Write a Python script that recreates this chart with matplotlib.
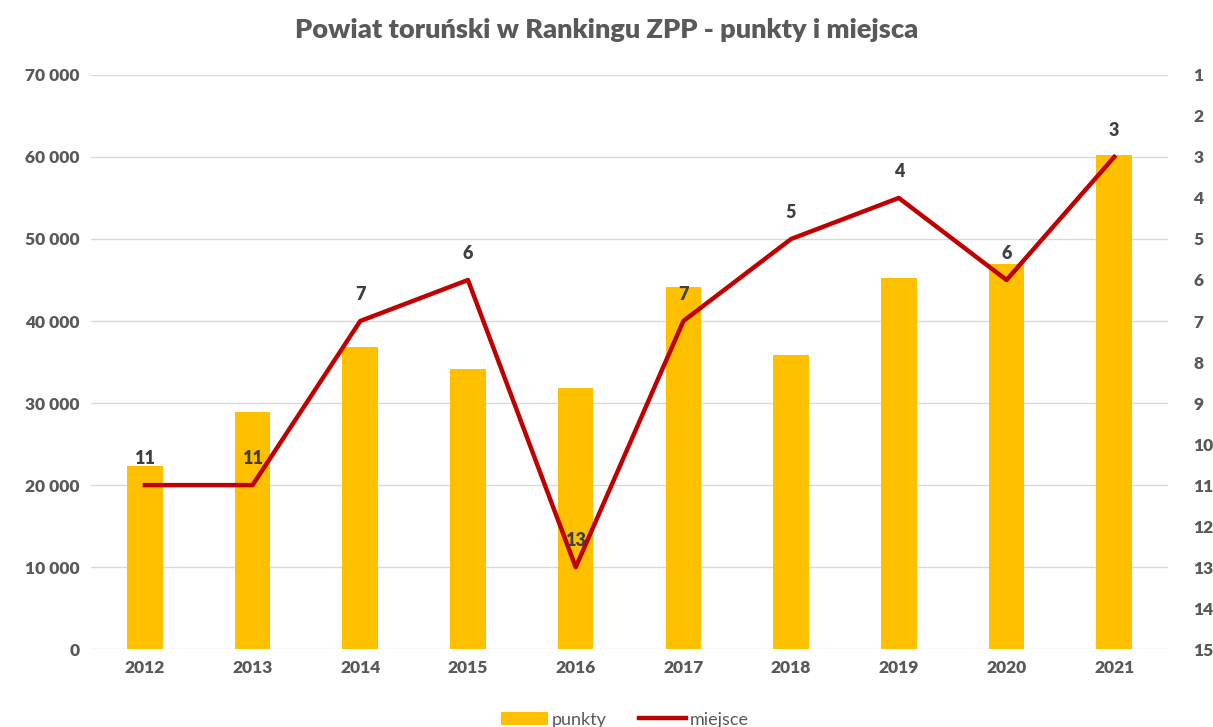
import matplotlib.pyplot as plt
from matplotlib.ticker import FuncFormatter
import numpy as np

plt.rcParams['font.family'] = ['Lato', 'DejaVu Sans']

years = ['2012', '2013', '2014', '2015', '2016', '2017', '2018', '2019', '2020', '2021']
punkty = [22300, 28900, 36800, 34100, 31800, 44100, 35900, 45300, 46900, 60200]
miejsce = [11, 11, 7, 6, 13, 7, 5, 4, 6, 3]

gray = '#595959'
fig = plt.figure(figsize=(12.13, 7.27), dpi=100)
ax = fig.add_axes([0.075, 0.107, 0.888, 0.79])
x = np.arange(len(years))

ax.bar(x, punkty, width=0.33, color='#FFC000', label='punkty', zorder=2)
ax.set_ylim(0, 70000)
ax.set_xlim(-0.5, len(years) - 0.5)
ax.set_yticks(np.arange(0, 70001, 10000))
ax.yaxis.set_major_formatter(FuncFormatter(lambda v, p: f'{int(v):,}'.replace(',', ' ')))
ax.grid(axis='y', color='#D9D9D9', linewidth=1, zorder=0)
ax.set_xticks(x)
ax.set_xticklabels(years)
for s in ax.spines.values():
    s.set_visible(False)
ax.tick_params(length=0, labelsize=12.5, labelcolor=gray, pad=8)
for t in ax.get_xticklabels() + ax.get_yticklabels():
    t.set_fontweight('heavy')

ax2 = ax.twinx()
ax2.plot(x, miejsce, color='#C00000', linewidth=3.2, label='miejsce', zorder=3)
ax2.set_ylim(15, 1)
ax2.set_yticks(range(1, 16))
for s in ax2.spines.values():
    s.set_visible(False)
ax2.tick_params(length=0, labelsize=12.5, labelcolor=gray, pad=18)
for t in ax2.get_yticklabels():
    t.set_fontweight('heavy')

for xi, m in zip(x, miejsce):
    ax2.annotate(str(m), (xi, m), xytext=(0, 13), textcoords='offset points',
                 ha='center', va='bottom', fontsize=13, fontweight='heavy', color='#404040')

fig.suptitle('Powiat toruński w Rankingu ZPP - punkty i miejsca', y=0.975,
             fontsize=19.5, fontweight='heavy', color=gray)

h1, l1 = ax.get_legend_handles_labels()
h2, l2 = ax2.get_legend_handles_labels()
fig.legend(h1 + h2, l1 + l2, loc='center', bbox_to_anchor=(0.515, 0.01), ncol=2,
           frameon=False, fontsize=13, labelcolor=gray, handlelength=2.6,
           handletextpad=0.2, columnspacing=1.8)

fig.savefig('out.png', dpi=100)
